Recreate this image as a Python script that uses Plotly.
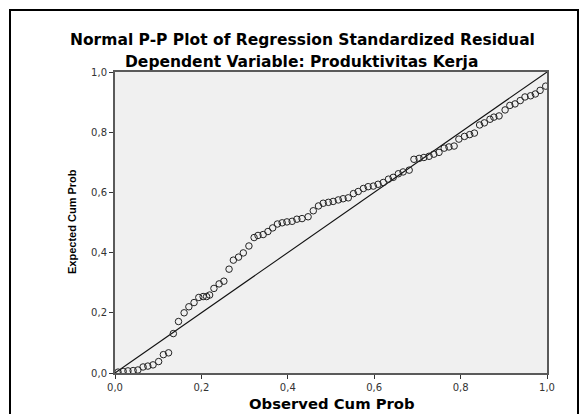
import plotly.graph_objects as go

# Observed cumulative probability (x) and expected cumulative probability (y)
observed_cum_prob = [
    0.007, 0.019, 0.030, 0.042, 0.053, 0.065, 0.076, 0.088, 0.101, 0.112,
    0.124, 0.135, 0.147, 0.160, 0.171, 0.183, 0.194, 0.204, 0.212, 0.219,
    0.229, 0.241, 0.252, 0.264, 0.274, 0.286, 0.297, 0.310, 0.322, 0.331,
    0.343, 0.354, 0.365, 0.376, 0.387, 0.398, 0.410, 0.421, 0.433, 0.447,
    0.459, 0.471, 0.482, 0.494, 0.505, 0.517, 0.528, 0.540, 0.552, 0.563,
    0.575, 0.586, 0.598, 0.609, 0.621, 0.633, 0.644, 0.656, 0.667, 0.681,
    0.692, 0.704, 0.715, 0.727, 0.738, 0.750, 0.762, 0.773, 0.785, 0.796,
    0.809, 0.821, 0.832, 0.844, 0.855, 0.868, 0.877, 0.889, 0.903, 0.914,
    0.926, 0.938, 0.949, 0.962, 0.973, 0.984, 0.997,
]
expected_cum_prob = [
    0.003, 0.005, 0.007, 0.008, 0.010, 0.020, 0.023, 0.027, 0.038, 0.061,
    0.067, 0.131, 0.171, 0.200, 0.220, 0.234, 0.251, 0.254, 0.254, 0.259,
    0.281, 0.296, 0.305, 0.345, 0.375, 0.385, 0.399, 0.422, 0.450, 0.457,
    0.460, 0.470, 0.482, 0.495, 0.499, 0.502, 0.504, 0.511, 0.513, 0.519,
    0.539, 0.555, 0.564, 0.567, 0.570, 0.575, 0.579, 0.582, 0.596, 0.603,
    0.613, 0.619, 0.621, 0.627, 0.633, 0.644, 0.650, 0.662, 0.668, 0.674,
    0.710, 0.713, 0.716, 0.720, 0.727, 0.733, 0.747, 0.751, 0.754, 0.777,
    0.786, 0.792, 0.797, 0.824, 0.831, 0.843, 0.850, 0.854, 0.874, 0.889,
    0.894, 0.905, 0.917, 0.921, 0.927, 0.939, 0.953,
]
reference_line = [0.0, 1.0]
tick_values = [0.0, 0.2, 0.4, 0.6, 0.8, 1.0]
tick_labels = ["0,0", "0,2", "0,4", "0,6", "0,8", "1,0"]

title_text = "Normal P-P Plot of Regression Standardized Residual"
subtitle_text = "Dependent Variable: Produktivitas Kerja"
x_title = "Observed Cum Prob"
y_title = "Expected Cum Prob"

W, H = 580, 414
L, R, T, B = 115, 33, 72, 41
pw, ph = W - L - R, H - T - B


def px_x(p):
    return (p - L) / pw


def px_y(p):
    return (H - B - p) / ph


fig = go.Figure()
fig.add_trace(go.Scatter(
    x=reference_line, y=reference_line, mode="lines",
    line=dict(color="#111111", width=1.1), hoverinfo="skip", showlegend=False,
))
fig.add_trace(go.Scatter(
    x=observed_cum_prob, y=expected_cum_prob, mode="markers",
    marker=dict(symbol="circle-open", size=6.5, color="#222222",
                line=dict(width=1, color="#222222")),
    showlegend=False,
))

axis_common = dict(
    range=[0, 1], tickvals=tick_values, ticktext=tick_labels,
    showgrid=False, zeroline=False, showline=True, linecolor="#5a5a5a",
    linewidth=2, mirror=True, ticks="outside", ticklen=4, tickwidth=1.2,
    tickcolor="#333333",
    tickfont=dict(family="DejaVu Sans, sans-serif", size=10, color="#333333"),
)
fig.update_xaxes(**axis_common)
fig.update_yaxes(**axis_common)

title_font = "DejaVu Sans, Liberation Sans, sans-serif"
fig.add_annotation(text="<b>" + title_text + "</b>", xref="paper", yref="paper",
                   x=px_x(302), y=px_y(40), showarrow=False,
                   xanchor="center", yanchor="middle",
                   font=dict(family=title_font, size=15.5, color="#000000"))
fig.add_annotation(text="<b>" + subtitle_text + "</b>", xref="paper", yref="paper",
                   x=px_x(301), y=px_y(62), showarrow=False,
                   xanchor="center", yanchor="middle",
                   font=dict(family=title_font, size=15.5, color="#000000"))
fig.add_annotation(text="<b>" + x_title + "</b>", xref="paper", yref="paper",
                   x=px_x(332), y=px_y(403), showarrow=False,
                   xanchor="center", yanchor="middle",
                   font=dict(family=title_font, size=14.8, color="#000000"))
fig.add_annotation(text="<b>" + y_title + "</b>", xref="paper", yref="paper",
                   x=px_x(72), y=px_y(222), showarrow=False, textangle=-90,
                   xanchor="center", yanchor="middle",
                   font=dict(family="Liberation Sans Narrow, Liberation Sans, Arial, sans-serif",
                             size=11, color="#000000"))

# outer frame
fig.add_shape(type="rect", xref="paper", yref="paper",
              x0=px_x(10), y0=px_y(430), x1=px_x(578), y1=px_y(10),
              line=dict(color="#000000", width=2), layer="below")

fig.update_layout(
    width=W, height=H, margin=dict(l=L, r=R, t=T, b=B),
    paper_bgcolor="#ffffff", plot_bgcolor="#f0f0f0",
    showlegend=False,
)

fig.write_html("out.html", config={"displayModeBar": False},
               post_script="document.body.style.margin='0';")
